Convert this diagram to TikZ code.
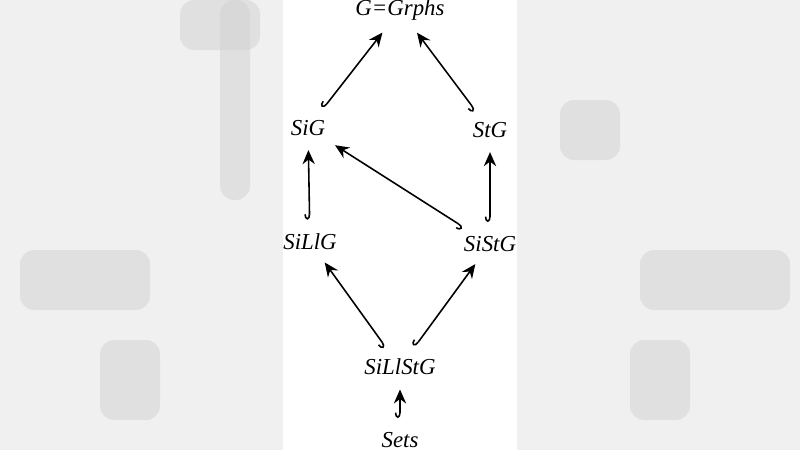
\documentclass[tikz,border=0pt]{standalone}
\usepackage{fontspec}
\setmainfont{Liberation Serif}
\usetikzlibrary{arrows.meta}
\begin{document}
\begin{tikzpicture}[x=0.02cm,y=-0.02cm,
  lbl/.style={font=\fontsize{13}{15}\selectfont\itshape, inner sep=2pt},
  inc/.style={line width=0.9pt, {Hooks[right,length=3pt,width=6pt]}-{Stealth[length=8pt,width=7pt]}, shorten <=6pt, shorten >=6pt}]
\useasboundingbox (0,0) rectangle (800,450);
\fill[gray!12] (0,0) rectangle (283,450);
\fill[gray!12] (517,0) rectangle (800,450);
\foreach \x/\y/\w/\h in {20/250/130/60, 640/250/150/60, 100/340/60/80, 630/340/60/80, 180/0/80/50, 560/100/60/60, 220/0/30/200}
  \fill[gray!35, opacity=0.5, rounded corners=8pt] (\x,\y) rectangle ++(\w,\h);
\fill[white] (283,0) rectangle (517,450);
\node[lbl] (G) at (400,10) {G=Grphs};
\node[lbl] (SiG) at (308,128) {SiG};
\node[lbl] (StG) at (490,130) {StG};
\node[lbl] (SiLlG) at (310,242) {SiLlG};
\node[lbl] (SiStG) at (490,244) {SiStG};
\node[lbl] (SiLlStG) at (400,367) {SiLlStG};
\node[lbl] (Sets) at (400,440) {Sets};
\draw[inc] (SiG) -- (G);
\draw[inc] (StG) -- (G);
\draw[inc] (SiLlG) -- (SiG);
\draw[inc] (SiStG) -- (StG);
\draw[inc] (SiStG) -- (SiG);
\draw[inc] (SiLlStG) -- (SiLlG);
\draw[inc] (SiLlStG) -- (SiStG);
\draw[inc] (Sets) -- (SiLlStG);
\end{tikzpicture}
\end{document}
